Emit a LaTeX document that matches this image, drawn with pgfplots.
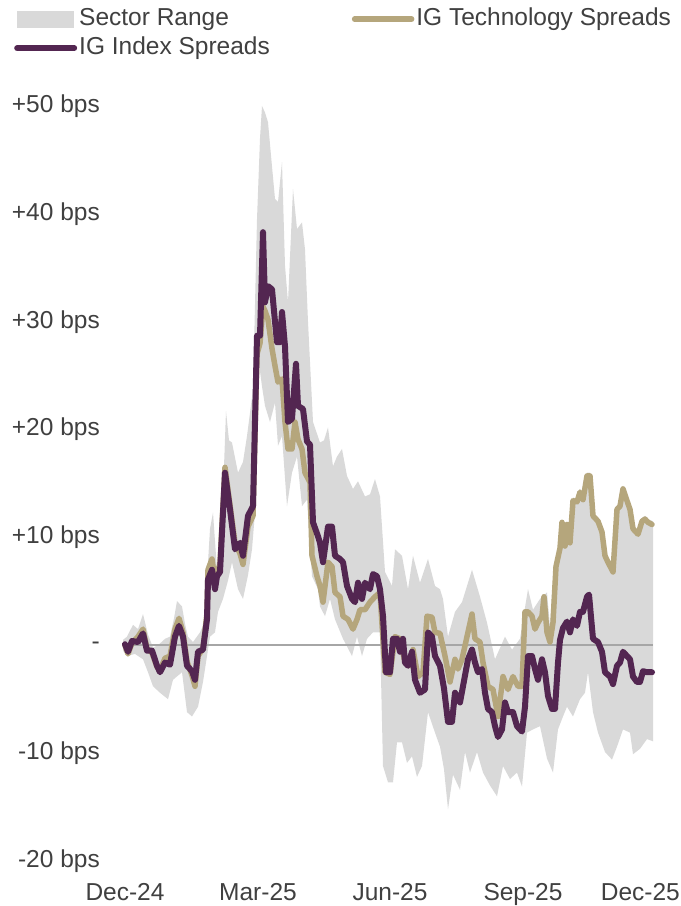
\documentclass[border=0pt]{standalone}
\usepackage{pgfplots}
\pgfplotsset{compat=1.18}
\usepgfplotslibrary{fillbetween}
\usepackage{fontspec}
\setmainfont{Liberation Sans}
\definecolor{rangegrey}{HTML}{D9D9D9}
\definecolor{techgold}{HTML}{B5A67C}
\definecolor{idxpurple}{HTML}{532651}
\definecolor{zerogrey}{HTML}{A6A6A6}
\definecolor{txt}{HTML}{404040}
\newcommand{\cfont}{\fontsize{24.5bp}{29bp}\selectfont}
\begin{document}
\begin{tikzpicture}
\begin{axis}[
  at={(120bp,45bp)}, anchor=south west,
  scale only axis, width=540bp, height=755bp,
  xmin=120, xmax=660, ymin=-20, ymax=50,
  axis line style={draw=none}, major tick length=0pt,
  xtick={125,258,390,523},
  xticklabels={Dec-24,Mar-25,Jun-25,Sep-25},
  extra x ticks={655},
  extra x tick labels={Dec-25},
  extra x tick style={xticklabel style={anchor=north east, xshift=25bp}},
  ytick={-20,-10,0,10,20,30,40,50},
  yticklabels={-20 bps,-10 bps,-,+10 bps,+20 bps,+30 bps,+40 bps,+50 bps},
  every tick label/.append style={font=\cfont, text=txt, inner sep=0pt},
  xticklabel shift=22bp, yticklabel shift=20bp,
  clip=false,
  legend columns=2,
  legend style={draw=none, fill=none, inner sep=0pt, font=\cfont, text=txt,
    at={(-0.1963,1.1298)}, anchor=north west,
    nodes={inner sep=0pt, text depth=5bp, text height=17bp},
    /tikz/every odd column/.append style={column sep=2bp},
    /tikz/every even column/.append style={column sep=82bp},
    /tikz/row sep=7bp},
  legend cell align=left,
  legend image code/.code={\draw[#1] (0bp,0bp) -- (57bp,0bp);},
]
\addplot[name path=up, draw=none, forget plot] table {
123 0.5
127 0.8
133 1.9
138 1.5
143 2.9
148 1.0
153 -0.2
158 0.0
165 0.6
170 0.8
174 2.5
177 4.1
182 3.6
185 2.0
188 0.8
193 0.3
200 1.2
204 2.0
207 6.1
210 10.8
213 12.3
217 7.0
220 9.8
223 14.0
226 21.7
229 19.0
232 18.8
238 16.0
243 17.0
247 19.4
253 23.7
257 39.5
260 47.0
262 50.0
265 49.4
268 48.5
272 44.4
275 41.4
278 41.1
282 44.8
285 35.2
288 31.8
293 42.3
297 38.6
302 39.2
305 36.7
308 30.0
313 20.7
320 18.8
324 19.0
328 20.2
333 16.6
337 17.5
342 18.2
347 15.7
353 14.5
358 15.2
365 13.8
370 14.0
375 15.4
380 13.8
385 6.8
392 5.5
395 8.9
402 8.3
408 5.2
413 8.3
420 5.8
428 8.0
435 5.5
440 5.2
443 4.3
448 0.8
455 3.1
462 4.0
472 7.0
480 4.5
487 2.1
495 -1.3
505 0.8
512 -0.4
520 0.6
525 3.5
528 5.2
533 3.3
540 4.3
547 4.9
550 1.8
553 6.1
556 7.6
560 9.3
562 11.7
565 9.5
567 11.5
570 9.8
573 13.7
577 13.6
580 14.5
583 13.8
587 16.0
590 16.0
593 12.3
598 11.8
602 10.8
605 8.6
608 8.0
613 7.1
617 12.9
620 13.2
623 14.8
627 13.7
630 12.9
633 11.1
638 10.6
642 11.8
645 12.0
648 11.7
653 11.5
};
\addplot[name path=lo, draw=none, forget plot] table {
123 -0.5
127 -1.0
135 -0.8
143 -1.3
148 -2.5
153 -3.8
160 -4.4
168 -5.0
173 -3.2
182 -2.5
187 -6.2
192 -6.6
198 -5.7
203 -3.4
207 -1.0
210 0.8
215 1.2
218 3.1
223 4.3
228 6.0
232 7.7
238 5.2
243 4.3
248 6.5
252 8.9
255 12.3
258 26.8
262 24.0
265 22.2
270 20.7
275 22.5
278 18.5
282 19.4
287 12.9
292 16.0
297 17.5
302 12.9
307 13.5
312 6.4
318 5.2
320 3.6
325 2.7
330 4.3
335 2.4
343 0.6
352 -1.0
357 0.8
362 -1.0
367 0.6
373 1.2
380 1.2
383 -11.2
388 -12.7
393 -12.7
397 -9.0
402 -9.0
407 -10.9
412 -10.3
417 -12.2
422 -11.2
428 -6.2
435 -8.1
440 -9.4
444 -11.5
448 -15.2
453 -12.0
460 -13.4
465 -9.9
470 -11.8
477 -9.9
483 -11.8
490 -13.0
497 -14.0
503 -11.2
510 -12.4
517 -11.8
522 -13.1
527 -8.1
533 -7.8
540 -7.5
547 -10.5
553 -11.8
558 -7.8
563 -6.6
567 -5.7
573 -6.6
580 -5.0
585 -4.4
588 -2.5
593 -6.2
598 -8.1
605 -9.9
612 -10.6
617 -9.4
623 -7.8
630 -8.1
633 -10.1
640 -9.6
647 -8.7
653 -8.9
};
\addplot[fill=rangegrey, draw=none,
  legend image code/.code={\fill[rangegrey] (0bp,-8.5bp) rectangle (57bp,8.5bp);}]
  fill between[of=up and lo];
\addlegendentry{Sector Range}
\addplot[zerogrey, line width=2bp, forget plot] coordinates {(123,0) (653,0)};
\addplot[techgold, line width=5.5bp, line join=round, line cap=round] table {
125 0.0
128 -0.8
132 0.2
138 0.8
143 1.5
147 -0.3
152 -0.7
157 -2.0
160 -2.3
165 -1.2
170 -1.0
175 1.5
179 2.5
183 1.2
187 -1.5
192 -2.8
195 -3.8
198 -1.0
203 -0.3
207 3.0
208 7.0
212 8.0
215 6.0
217 6.8
220 7.5
223 13.0
225 16.5
230 13.0
235 9.5
240 8.5
243 7.5
248 11.0
253 12.0
257 27.0
260 28.0
263 31.4
265 31.0
268 30.2
272 27.5
275 25.9
278 24.4
282 24.7
285 20.7
288 18.2
292 18.2
295 20.7
298 19.1
302 18.2
305 16.0
310 15.1
312 8.3
317 6.4
320 5.5
323 4.0
328 7.7
332 7.3
335 4.9
340 4.5
343 2.7
348 2.4
353 1.5
357 2.4
360 3.3
365 3.3
370 4.0
375 4.5
380 4.9
385 -2.5
390 -2.7
395 0.8
400 0.6
405 -1.6
410 -1.9
413 -0.4
418 -2.9
423 -2.5
427 2.7
432 2.6
435 1.2
440 1.1
445 -1.0
450 -3.4
455 -1.3
458 -2.2
462 -1.3
467 0.8
472 2.9
475 0.6
480 0.3
483 -1.6
488 -3.8
493 -4.1
498 -6.6
503 -2.9
508 -4.1
513 -2.9
518 -3.8
522 -3.8
525 3.1
528 3.1
532 2.7
535 1.5
538 2.1
542 2.7
544 4.5
547 1.2
550 0.3
553 2.1
556 7.3
560 9.0
562 11.4
565 9.2
567 11.2
570 9.5
573 13.4
577 13.3
580 14.2
583 13.5
587 15.7
590 15.7
593 12.0
598 11.5
602 10.5
605 8.3
608 7.7
613 6.8
617 12.6
620 12.9
623 14.5
627 13.4
630 12.6
633 10.8
638 10.3
642 11.5
645 11.7
648 11.4
652 11.2
};
\addlegendentry{IG Technology Spreads}
\addplot[idxpurple, line width=6bp, line join=round, line cap=round] table {
125 0.1
128 -0.6
132 0.4
138 0.3
143 1.1
147 -0.5
152 -0.5
157 -1.9
160 -2.5
165 -1.6
170 -1.8
175 0.8
179 1.8
183 0.8
187 -1.9
192 -2.4
195 -3.2
198 -0.6
203 -0.4
207 2.4
208 6.1
212 7.0
215 5.2
217 6.4
220 6.8
223 12.3
225 16.0
230 12.6
235 8.9
240 9.5
243 8.3
248 12.0
253 12.9
257 28.7
260 28.7
263 38.3
265 31.8
268 33.3
272 33.0
275 30.0
277 28.1
280 28.1
282 30.9
285 27.7
288 20.7
292 21.0
296 26.1
298 22.2
303 21.9
307 18.9
310 18.6
313 11.4
318 10.1
320 9.5
323 7.7
328 11.0
332 11.0
335 8.3
340 8.0
343 7.7
347 5.5
352 4.3
355 4.0
358 5.8
362 4.3
365 5.8
370 5.2
373 6.6
377 6.4
380 5.2
383 2.7
386 -2.5
390 -2.5
393 0.6
397 0.6
400 -0.6
403 0.6
405 -1.6
408 -1.9
412 -0.6
415 -3.2
420 -4.4
425 -4.1
428 1.2
432 0.8
435 -1.0
440 -1.9
444 -4.0
448 -7.1
452 -7.1
455 -4.4
460 -5.3
463 -3.8
468 -1.3
472 -0.4
475 -1.6
478 -2.5
482 -2.2
485 -4.4
488 -5.9
492 -6.2
495 -7.5
498 -8.5
502 -7.8
505 -5.3
508 -6.2
513 -6.2
517 -7.5
522 -8.0
525 -5.7
528 -1.0
532 -1.0
535 -2.2
538 -3.2
542 -1.3
545 -2.5
548 -4.7
552 -5.9
555 -5.9
558 -1.6
560 0.5
563 1.6
567 2.2
570 1.2
573 2.4
577 1.8
580 3.1
583 3.1
587 4.5
589 4.7
593 0.6
598 0.3
602 -0.6
605 -2.5
610 -2.9
613 -3.6
617 -1.9
620 -1.6
623 -0.6
627 -1.0
630 -1.3
633 -2.9
637 -3.4
640 -3.4
643 -2.4
647 -2.5
652 -2.5
};
\addlegendentry{IG Index Spreads}
\end{axis}
\pgfresetboundingbox
\path[use as bounding box] (0bp,0bp) rectangle (681bp,906bp);
\end{tikzpicture}
\end{document}
